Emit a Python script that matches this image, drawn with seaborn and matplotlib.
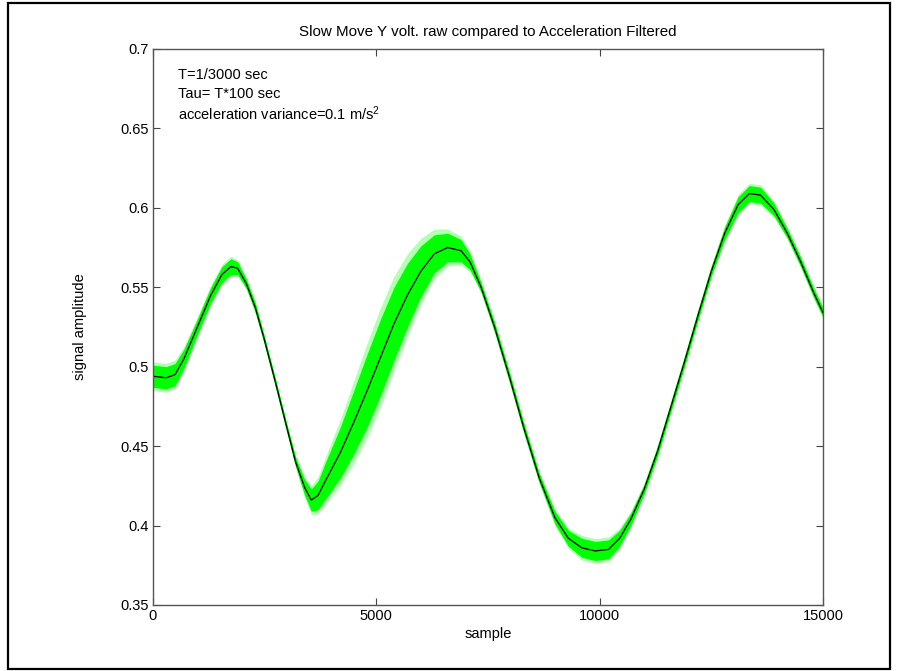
import matplotlib
matplotlib.use("Agg")
import matplotlib.pyplot as plt
from matplotlib.patches import Rectangle
import numpy as np
import pandas as pd
import seaborn as sns

# ---- data ----
samples = [0, 300, 500, 700, 1000, 1300, 1550, 1750, 1900, 2100, 2300, 2500, 2750,
           3000, 3200, 3400, 3550, 3700, 3900, 4200, 4500, 4800, 5100, 5400, 5700,
           6000, 6300, 6600, 6900, 7100, 7350, 7650, 8000, 8300, 8650, 9000, 9300,
           9600, 9900, 10200, 10450, 10700, 11000, 11300, 11600, 11900, 12200,
           12500, 12800, 13100, 13350, 13600, 13900, 14200, 14500, 14800, 15000]
filtered = [0.494, 0.493, 0.495, 0.505, 0.525, 0.545, 0.558, 0.563, 0.562, 0.552,
            0.537, 0.517, 0.490, 0.462, 0.440, 0.424, 0.416, 0.419, 0.430, 0.446,
            0.465, 0.485, 0.506, 0.527, 0.545, 0.560, 0.571, 0.575, 0.573, 0.566,
            0.550, 0.525, 0.492, 0.462, 0.430, 0.405, 0.392, 0.386, 0.384, 0.385,
            0.392, 0.404, 0.423, 0.447, 0.475, 0.503, 0.532, 0.560, 0.584, 0.602,
            0.609, 0.608, 0.599, 0.584, 0.566, 0.546, 0.534]
# half-width of the raw (noisy) signal spread around the filtered curve
raw_spread = [0.007, 0.007, 0.007, 0.006, 0.005, 0.005, 0.005, 0.005, 0.004, 0.003,
              0.003, 0.002, 0.002, 0.002, 0.003, 0.005, 0.007, 0.009, 0.012, 0.016,
              0.020, 0.023, 0.024, 0.023, 0.020, 0.016, 0.012, 0.009, 0.007, 0.005,
              0.003, 0.003, 0.003, 0.003, 0.003, 0.004, 0.005, 0.006, 0.006, 0.006,
              0.005, 0.004, 0.003, 0.003, 0.003, 0.003, 0.003, 0.003, 0.004, 0.005,
              0.005, 0.005, 0.004, 0.003, 0.003, 0.003, 0.003]

x_ticks = [0, 5000, 10000, 15000]
y_ticks = [0.35, 0.4, 0.45, 0.5, 0.55, 0.6, 0.65, 0.7]
y_ticklabels = ["0.35", "0.4", "0.45", "0.5", "0.55", "0.6", "0.65", "0.7"]
notes = ["T=1/3000 sec", "Tau= T*100 sec", "acceleration variance=0.1 m/s$^2$"]
note_y = [0.6836, 0.6716, 0.659]

df = pd.DataFrame({"sample": samples, "filtered": filtered, "spread": raw_spread})
df["lo"] = df["filtered"] - df["spread"]
df["hi"] = df["filtered"] + df["spread"]

sns.set_theme(style="white")
plt.rcParams["font.family"] = ["Liberation Sans", "DejaVu Sans"]
plt.rcParams["mathtext.default"] = "regular"

fig = plt.figure(figsize=(8.98, 6.71), dpi=100)
ax = fig.add_axes([0.170, 0.0984, 0.7465, 0.8286])

# raw signal (green), drawn as its spread band with a fuzzy outer edge
ax.fill_between(df["sample"], df["filtered"] - 1.3 * df["spread"],
                df["filtered"] + 1.3 * df["spread"], color="#66ff66", alpha=0.5, lw=0)
ax.fill_between(df["sample"], df["lo"], df["hi"], color="#00ff00", lw=0)
sns.lineplot(data=df, x="sample", y="filtered", color="#00ee00", lw=1.4, ax=ax)
# filtered signal (black)
sns.lineplot(data=df, x="sample", y="filtered", color="black", lw=0.9, ax=ax)

ax.set_xlim(0, 15000)
ax.set_ylim(0.35, 0.7)
ax.set_xticks(x_ticks)
ax.set_xticklabels([str(t) for t in x_ticks])
ax.set_yticks(y_ticks)
ax.set_yticklabels(y_ticklabels)
ax.tick_params(direction="in", length=5, width=0.8, colors="#444444",
               labelcolor="black", labelsize=10.5, top=True, right=True,
               bottom=True, left=True, pad=3)
for s in ax.spines.values():
    s.set_color("#555555")
    s.set_linewidth(1.0)
    s.set_visible(True)

ax.set_title("Slow Move Y volt. raw compared to Acceleration Filtered",
             fontsize=10.9, pad=9, color="black")
ax.set_xlabel("sample", fontsize=10.5, labelpad=3, color="black")
ax.set_ylabel("signal amplitude", fontsize=10.5, labelpad=24, color="black")

for t, yv in zip(notes, note_y):
    ax.text(560, yv, t, fontsize=10.5, va="center", ha="left", color="black")

fig.patches.append(Rectangle((0.009, 0.003), 0.982, 0.9925, transform=fig.transFigure,
                             fill=False, edgecolor="black", lw=1.6))

fig.savefig("out.png", dpi=100, facecolor="white")
